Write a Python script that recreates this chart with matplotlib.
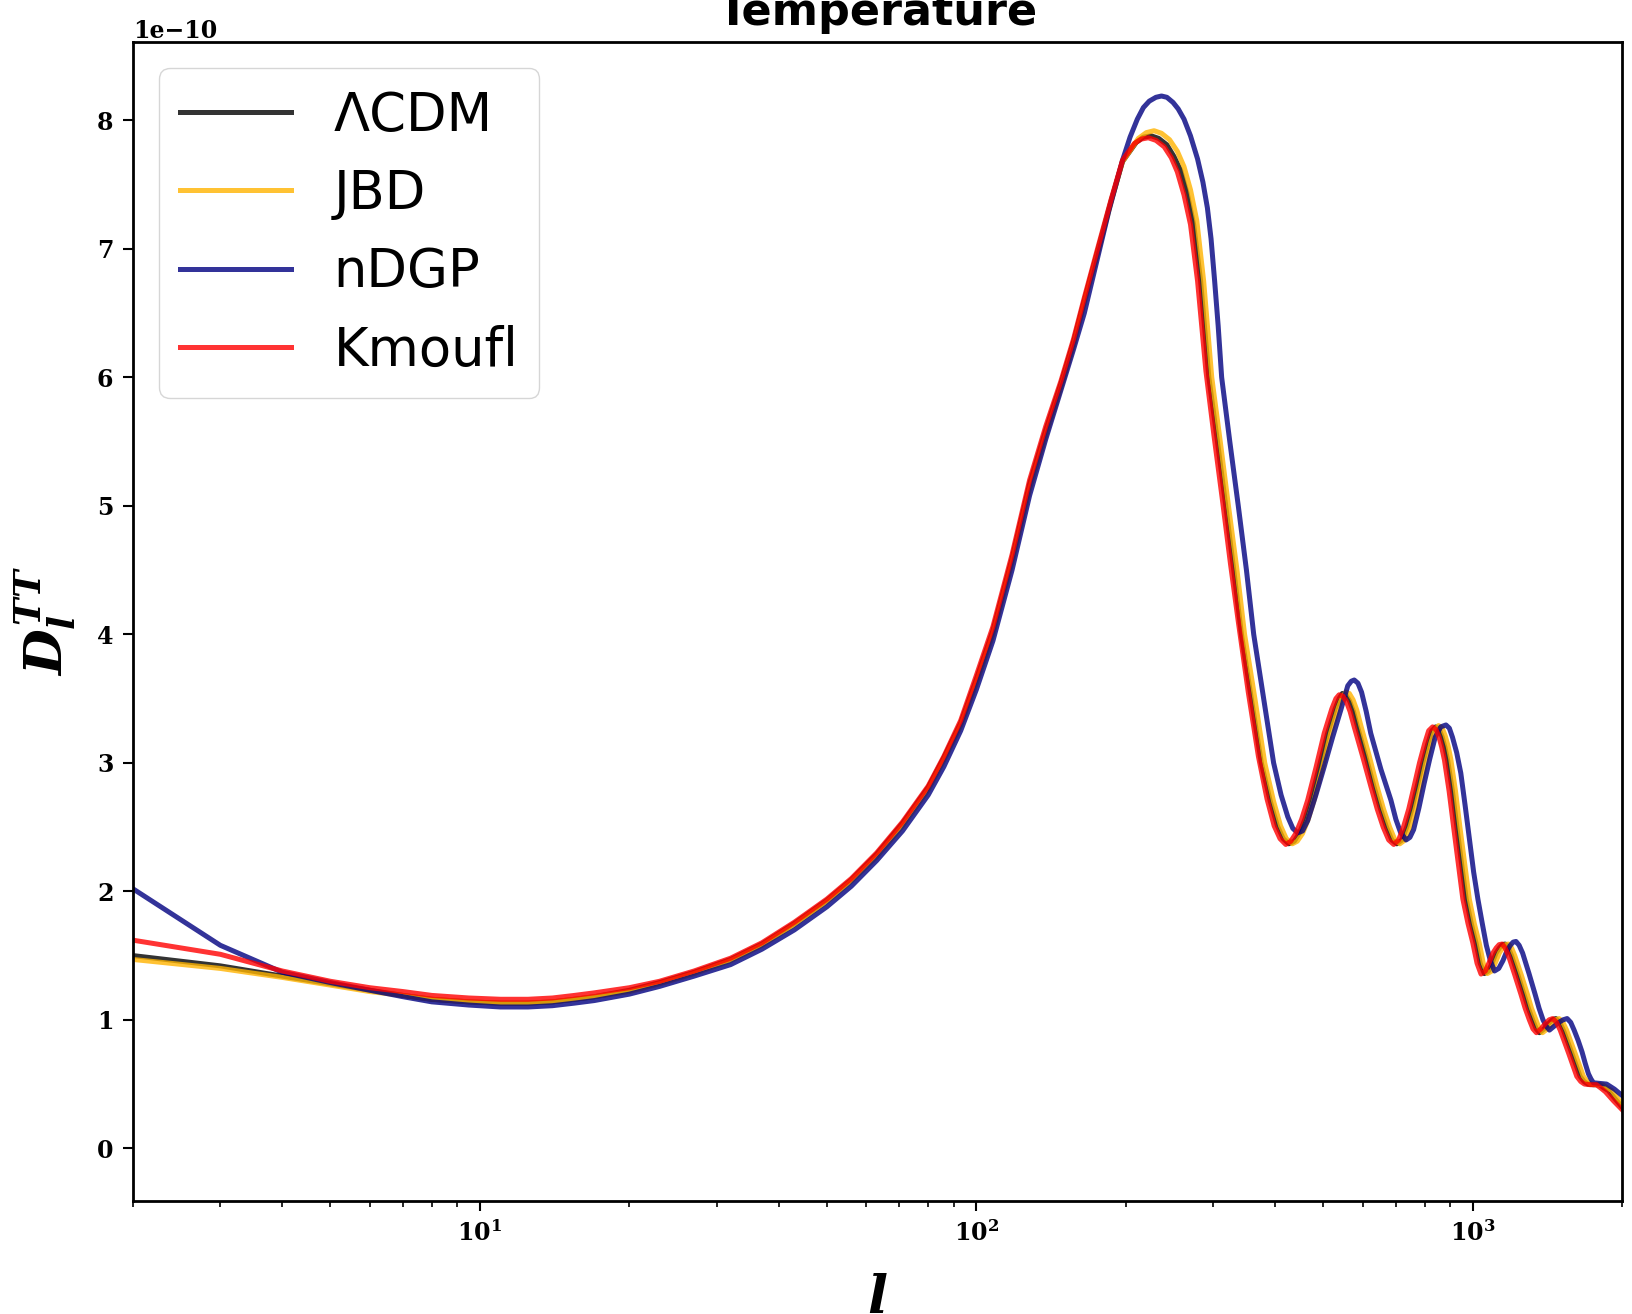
import numpy as np
import matplotlib
matplotlib.use("Agg")
import matplotlib.pyplot as plt

# D_l^TT in units of 1e-10
low_ell = [2, 3, 4, 5, 6, 7, 8, 9.5, 11, 12.5, 14, 15.5, 17, 20, 23, 27, 32, 37, 43, 50, 56,
           63, 71, 80, 86, 93, 100, 108, 118, 128, 138, 148, 157, 165, 176, 187, 197]

ell_lcdm = low_ell + [
    210, 217, 225, 233, 242, 250, 258, 266, 274, 283,
    294, 306, 318, 330, 342, 358, 375, 391, 404, 415, 426, 437, 447, 459, 472, 490,
    510, 528, 538, 546, 555, 565, 575, 586, 609, 632, 652, 670, 687, 703, 720, 736,
    754, 773, 793, 812, 827, 842, 856, 868, 879, 890, 910, 929, 949, 970, 993, 1015,
    1035, 1055, 1076, 1096, 1114, 1132, 1147, 1162, 1179, 1197, 1233, 1268, 1294,
    1320, 1342, 1362, 1392, 1420, 1446, 1470, 1497, 1522, 1553, 1583, 1614, 1645,
    1675, 1705, 1750, 1800, 1837, 1875, 1940, 2000]
dl_lcdm = [1.50, 1.42, 1.34, 1.28, 1.23, 1.19, 1.16, 1.14, 1.13, 1.13, 1.14, 1.16, 1.18, 1.23,
           1.29, 1.37, 1.47, 1.59, 1.75, 1.93, 2.09, 2.29, 2.53, 2.81, 3.04, 3.31, 3.65, 4.03,
           4.59, 5.17, 5.59, 5.95, 6.28, 6.60, 7.00, 7.38, 7.68,
           7.83, 7.87, 7.88, 7.86, 7.81, 7.72, 7.61, 7.43, 7.19, 6.75, 6.00, 5.50, 5.00, 4.50,
           4.00, 3.50, 3.00, 2.70, 2.51, 2.41, 2.37, 2.39, 2.45, 2.56, 2.71, 2.96, 3.23, 3.42,
           3.50, 3.54, 3.53, 3.48, 3.40, 3.28, 3.05, 2.82, 2.64, 2.50, 2.40, 2.37, 2.40, 2.50,
           2.64, 2.82, 3.00, 3.15, 3.25, 3.28, 3.26, 3.20, 3.12, 3.02, 2.78, 2.50, 2.22, 1.94,
           1.75, 1.60, 1.44, 1.36, 1.38, 1.45, 1.52, 1.56, 1.585, 1.59, 1.56, 1.50, 1.35, 1.20,
           1.09, 1.00, 0.93, 0.90, 0.93, 0.97, 1.00, 1.01, 0.98, 0.92, 0.83, 0.74, 0.65, 0.56,
           0.52, 0.50, 0.495, 0.495, 0.47, 0.45, 0.38, 0.32]

ell_jbd = low_ell + [
    212, 220, 228, 236, 245, 254, 262, 270, 278, 287,
    298, 310, 322, 335, 347, 364, 381, 397, 410, 421, 433, 443, 454, 466, 479, 498,
    517, 536, 546, 555, 564, 574, 584, 595, 618, 641, 661, 680, 697, 713, 730, 747,
    765, 785, 804, 824, 840, 853, 868, 880, 892, 903, 923, 942, 963, 984, 1007, 1030,
    1050, 1070, 1092, 1112, 1131, 1148, 1164, 1180, 1197, 1215, 1252, 1288, 1313,
    1340, 1362, 1382, 1413, 1442, 1468, 1492, 1519, 1545, 1576, 1607, 1638, 1670,
    1700, 1730, 1777, 1828, 1865, 1905, 2000]
dl_jbd = [1.47, 1.40, 1.33, 1.27, 1.22, 1.19, 1.16, 1.14, 1.13, 1.13, 1.14, 1.16, 1.18, 1.22,
          1.28, 1.36, 1.46, 1.58, 1.74, 1.92, 2.08, 2.27, 2.51, 2.79, 3.02, 3.29, 3.62, 4.00,
          4.56, 5.13, 5.55, 5.92, 6.25, 6.58, 6.98, 7.37, 7.68,
          7.86, 7.905, 7.92, 7.90, 7.85, 7.76, 7.64, 7.46, 7.22, 6.75, 6.00, 5.50, 5.00, 4.50,
          4.00, 3.50, 3.00, 2.70, 2.51, 2.41, 2.37, 2.39, 2.45, 2.56, 2.71, 2.96, 3.23, 3.43,
          3.51, 3.55, 3.54, 3.49, 3.41, 3.29, 3.06, 2.82, 2.64, 2.50, 2.40, 2.37, 2.40, 2.50,
          2.64, 2.82, 3.00, 3.16, 3.26, 3.29, 3.27, 3.21, 3.13, 3.03, 2.78, 2.50, 2.22, 1.94,
          1.75, 1.60, 1.44, 1.36, 1.38, 1.45, 1.52, 1.56, 1.585, 1.59, 1.56, 1.50, 1.35, 1.20,
          1.09, 1.00, 0.93, 0.90, 0.93, 0.97, 1.00, 1.01, 0.98, 0.92, 0.83, 0.74, 0.65, 0.56,
          0.52, 0.50, 0.495, 0.495, 0.47, 0.45, 0.34]

ell_ndgp = low_ell[:-3] + [
    171, 185, 197, 204, 211, 217, 223, 230, 236, 242, 249, 255, 262, 270,
    279, 286, 292, 297, 302, 307, 312, 324, 337, 350, 362, 379, 397, 411, 424, 434,
    444, 454, 465, 483, 502, 522, 542, 560, 569, 577, 587, 597, 610, 623, 653, 684,
    700, 715, 734, 747, 760, 779, 798, 819, 840, 862, 883, 897, 910, 928, 946, 965,
    985, 1004, 1024, 1045, 1065, 1085, 1106, 1128, 1150, 1170, 1190, 1206, 1222, 1240,
    1260, 1298, 1335, 1360, 1385, 1406, 1427, 1458, 1490, 1520, 1549, 1575, 1600,
    1630, 1660, 1685, 1710, 1730, 1750, 1800, 1860, 1930, 2000]
dl_ndgp = [2.02, 1.58, 1.37, 1.29, 1.23, 1.18, 1.14, 1.115, 1.10, 1.10, 1.11, 1.13, 1.15, 1.20,
           1.26, 1.34, 1.43, 1.55, 1.70, 1.88, 2.04, 2.24, 2.47, 2.75, 2.97, 3.25, 3.57, 3.95,
           4.50, 5.08, 5.52, 5.90, 6.22, 6.50,
           6.75, 7.30, 7.69, 7.87, 8.01, 8.10, 8.15, 8.18, 8.19, 8.18, 8.14, 8.09, 8.01, 7.88,
           7.70, 7.52, 7.32, 7.08, 6.75, 6.40, 6.00, 5.50, 5.00, 4.50, 4.00, 3.50, 3.00, 2.75,
           2.58, 2.49, 2.455, 2.47, 2.55, 2.75, 2.97, 3.20, 3.41, 3.60, 3.635, 3.645, 3.62,
           3.55, 3.40, 3.23, 2.95, 2.71, 2.56, 2.46, 2.40, 2.42, 2.48, 2.65, 2.84, 3.03, 3.20,
           3.28, 3.295, 3.27, 3.20, 3.08, 2.92, 2.67, 2.40, 2.15, 1.94, 1.75, 1.58, 1.46, 1.38,
           1.40, 1.46, 1.53, 1.58, 1.605, 1.61, 1.58, 1.52, 1.36, 1.20, 1.09, 1.00, 0.95, 0.92,
           0.95, 0.98, 1.00, 1.01, 0.98, 0.92, 0.84, 0.75, 0.66, 0.58, 0.54, 0.51, 0.505, 0.50,
           0.46, 0.41]

ell_kmoufl = low_ell + [
    208, 215, 222, 230, 239, 247, 254, 262, 270, 279,
    290, 301, 313, 325, 337, 353, 370, 385, 398, 409, 420, 430, 440, 452, 465, 483,
    502, 520, 530, 538, 547, 556, 566, 577, 600, 623, 642, 660, 677, 693, 709, 725,
    743, 762, 781, 800, 815, 830, 843, 855, 866, 877, 896, 915, 935, 955, 978, 1000,
    1020, 1039, 1060, 1080, 1098, 1115, 1130, 1146, 1162, 1180, 1215, 1250, 1275,
    1300, 1322, 1343, 1372, 1400, 1425, 1449, 1475, 1500, 1530, 1560, 1590, 1620,
    1650, 1679, 1725, 1774, 1810, 1850, 1920, 2000]
dl_kmoufl = [1.62, 1.51, 1.38, 1.30, 1.25, 1.22, 1.19, 1.17, 1.16, 1.16, 1.17, 1.19, 1.21, 1.25,
             1.30, 1.38, 1.48, 1.60, 1.76, 1.94, 2.10, 2.30, 2.54, 2.82, 3.05, 3.33, 3.68, 4.06,
             4.62, 5.20, 5.62, 5.97, 6.30, 6.62, 7.02, 7.39, 7.69,
             7.82, 7.855, 7.865, 7.845, 7.795, 7.71, 7.60, 7.42, 7.19, 6.75, 6.05, 5.55, 5.05,
             4.55, 4.10, 3.55, 3.05, 2.72, 2.51, 2.41, 2.365, 2.39, 2.45, 2.56, 2.71, 2.96, 3.23,
             3.42, 3.50, 3.53, 3.52, 3.48, 3.40, 3.28, 3.05, 2.82, 2.64, 2.50, 2.40, 2.365, 2.40,
             2.50, 2.64, 2.82, 3.00, 3.15, 3.25, 3.28, 3.26, 3.20, 3.12, 3.02, 2.78, 2.50, 2.22,
             1.94, 1.75, 1.60, 1.44, 1.356, 1.38, 1.45, 1.52, 1.56, 1.585, 1.59, 1.56, 1.50,
             1.35, 1.20, 1.09, 1.00, 0.93, 0.90, 0.93, 0.97, 1.00, 1.01, 0.98, 0.92, 0.83, 0.74,
             0.65, 0.56, 0.52, 0.50, 0.495, 0.495, 0.47, 0.44, 0.37, 0.30]

models = [("ΛCDM", ell_lcdm, dl_lcdm, "k"),
          ("JBD", ell_jbd, dl_jbd, "#FFB300"),
          ("nDGP", ell_ndgp, dl_ndgp, "navy"),
          ("Kmoufl", ell_kmoufl, dl_kmoufl, "red")]

plt.rcParams['font.family'] = 'serif'
plt.rcParams['font.serif'] = ['DejaVu Serif']
plt.rcParams['font.weight'] = 'bold'
plt.rcParams['mathtext.fontset'] = 'custom'
plt.rcParams['mathtext.rm'] = 'DejaVu Serif:bold'
plt.rcParams['mathtext.it'] = 'DejaVu Serif:italic:bold'
plt.rcParams['mathtext.bf'] = 'DejaVu Serif:bold'
plt.rcParams['axes.linewidth'] = 2

fig = plt.figure(figsize=(16.33, 13.14), dpi=100)
ax = fig.add_axes([0.0814, 0.086, 0.912, 0.882])

for label, ell, dl, color in models:
    ax.plot(ell, np.array(dl)*1e-10, color=color, alpha=.8, lw=3.6, label=label)

ax.set_xscale('log')
ax.set_xlim(2, 2000)
ax.set_ylim(-0.41e-10, 8.61e-10)
ax.set_yticks(np.arange(0, 9)*1e-10)

ax.tick_params(which='major', length=7, width=1.5, labelsize=17, pad=7)
ax.tick_params(which='minor', length=4, width=1.2)
ax.yaxis.get_offset_text().set_fontsize(17)

ax.set_xlabel(r'$l$', fontsize=38, labelpad=19)
ax.set_ylabel(r'$D_l^{TT}$', fontsize=38, labelpad=14)
ax.set_title("Temperature", fontsize=32, fontweight='bold', family='DejaVu Sans', pad=12)

leg = ax.legend(loc='upper left', prop={'family': 'DejaVu Sans', 'weight': 'normal', 'size': 38},
                handlelength=2.1, borderaxespad=0.5)

fig.savefig("out.png", dpi=100)
